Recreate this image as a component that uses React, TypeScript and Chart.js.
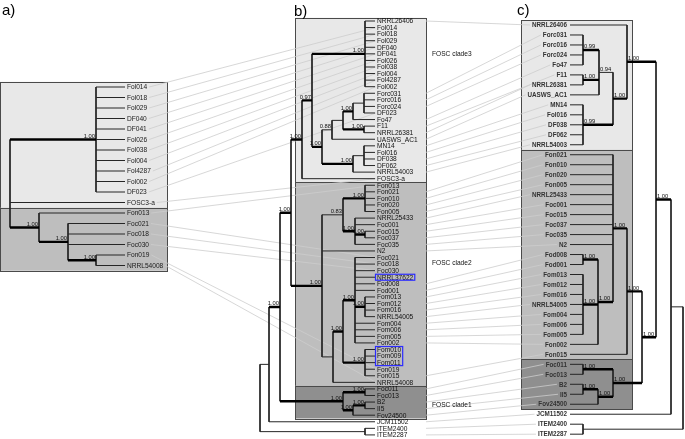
import React, { useEffect, useRef } from "react";
import { Chart, registerables } from "chart.js";
Chart.register(...registerables);

const W = 685;
const H = 439;

// ---------- Tree topologies (Newick-like: support@nodeColumn) ----------
// Panel a
const treeA =
  "((Fol014,Fol018,Fol029,DF040,DF041,Fol026,Fol038,Fol004,Fol4287,Fol002,DF023)1.00@96,FOSC3-a,(Fon013,(Foc021,Foc018,Foc030,(Fon019,NRRL54008)1.00@96)1.00@68)1.00@39)@10";

// Panel b
const bFol = "(NRRL26406,Fol014,Fol018,Fol029,DF040,DF041,Fol026,Fol038,Fol004,Fol4287,Fol002)1.00@365";
const bForc = "(Forc031,Forc016,Forc024,DF023)@364";
const bF11 = "(F11,NRRL26381)1.00@364";
const bMN = "(MN14,Fol016,DF038,DF062)@364";
const bClade3 = `((${bFol},((((${bForc},Fo47)1.00@353,${bF11})@343,UASWS_AC1)0.88@332,(${bMN},NRRL54003)1.00@353)1.00@322)0.97@312,FOSC3-a)1.00@302`;
const bFon = "(Fon013,Fon021,Fon010,Fon020,Fon005)1.00@365";
const bFoc = "(NRRL25433,Foc001,(Foc015,Foc037)1.00@365,Foc035)1.00@355";
const bFom = "(Foc021,Foc018,Foc030,NRRL37622,Fod008,Fod001,(Fom013,Fom012,Fom016,NRRL54005)1.00@365,Fom004,Fom006,Fom005,Fon002)1.00@355";
const bFom2 = "(Fom010,Fom009,Fom011,Fon019,Fon015)1.00@365";
const bClade2 = `((${bFon},${bFoc})0.83@343,N2,((${bFom},${bFom2})1.00@343,NRRL54008)@333)1.00@322`;
const bClade1 = "((Foc011,Foc013)1.00@365,((B2,II5)1.00@365,Fov24500)1.00@353)1.00@343";
const treeB = `((((${bClade3},${bClade2})1.00@291,${bClade1})1.00@280,JCM11502)@269,(ITEM2400,ITEM2287)@365)@260`;

// Panel c
const cForc = "(Forc031,Forc016,Forc024,Fo47)0.99@583";
const cF11 = "(F11,NRRL26381)1.00@583";
const cMN = "(MN14,Fol016,DF038,DF062,NRRL54003)0.99@583";
const cClade3 = `(NRRL26406,((${cForc},${cF11},UASWS_AC1)0.94@599,${cMN})1.00@613)1.00@627`;
const cFod = "(Fod008,Fod001)1.00@583";
const cFom = "(Fom013,Fom012,Fom016,NRRL54005,Fom004,Fom006,Fom005)1.00@583";
const cClade2 = `((Fon021,Fon010,Fon020,Fon005,NRRL25433,Foc001,Foc015,Foc037,Foc035,N2,(${cFod},${cFom},Fon002)1.00@598)1.00@613,Fon015)1.00@627`;
const cClade1 = "((Foc011,Foc013)1.00@583,((B2,II5)1.00@583,Fov24500)1.00@598)1.00@613";
const treeC = `(((${cClade3},(${cClade2},${cClade1})1.00@642)1.00@656,JCM11502)@671,(ITEM2400,ITEM2287)@583)@683`;

// Shaded clade boxes: [first leaf, last leaf, shade]
const boxesA: [string, string, string][] = [["Fol014", "FOSC3-a", "light"], ["Fon013", "NRRL54008", "mid"]];
const boxesB: [string, string, string][] = [["NRRL26406", "FOSC3-a", "light"], ["Fon013", "NRRL54008", "mid"], ["Foc011", "Fov24500", "dark"]];
const boxesC: [string, string, string][] = [["NRRL26406", "NRRL54003", "light"], ["Fon021", "Fon015", "mid"], ["Foc011", "Fov24500", "dark"]];
const cladeNames = ["FOSC clade3", "FOSC clade2", "FOSC clade1"];
const highlighted = [["NRRL37622", "NRRL37622"], ["Fom010", "Fom011"]];
const panelLetters = ["a)", "b)", "c)"];

// ---------- layout settings ----------
const PA = { y0: 87, dy: 10.5, tip: 125, labelX: 127, right: false, boxX0: 0, boxX1: 167 };
const PB = { y0: 21, dy: 6.57, tip: 375, labelX: 377, right: false, boxX0: 295, boxX1: 426 };
const PC = { y0: 25, dy: 9.98, tip: 570, labelX: 567, right: true, boxX0: 521, boxX1: 632 };
const SHADE: Record<string, string> = { light: "#e8e8e8", mid: "#bebebe", dark: "#8f8f8f" };
const LEAF_FONT = "6.6px 'Liberation Sans', Arial, sans-serif";
const LEAF_FONT_C = "bold 6.3px 'Liberation Sans', Arial, sans-serif";
const SUP_FONT = "5.8px 'Liberation Sans', Arial, sans-serif";

type Node = { name?: string; children: Node[]; sup?: string; x: number; y: number };

function parse(s: string): Node {
  let i = 0;
  function node(): Node {
    if (s[i] === "(") {
      i++;
      const children: Node[] = [];
      while (true) {
        children.push(node());
        if (s[i] === ",") { i++; continue; }
        if (s[i] === ")") { i++; break; }
        break;
      }
      let sup = "";
      while (i < s.length && /[0-9.]/.test(s[i])) sup += s[i++];
      let xs = "";
      if (s[i] === "@") { i++; while (i < s.length && /[0-9.]/.test(s[i])) xs += s[i++]; }
      return { children, sup, x: parseFloat(xs), y: 0 };
    }
    let name = "";
    while (i < s.length && !/[,()]/.test(s[i])) name += s[i++];
    return { name, children: [], x: 0, y: 0 };
  }
  return node();
}

function layout(src: string, P: any) {
  const root = parse(src);
  const leaves: Node[] = [];
  const thin: number[][][] = [];
  const thick: number[][][] = [];
  const sups: { x: number; y: number; t: string }[] = [];
  let idx = 0;
  const assign = (n: Node) => {
    if (!n.children.length) { n.y = P.y0 + idx * P.dy; n.x = P.tip; idx++; leaves.push(n); return; }
    n.children.forEach(assign);
    n.y = (n.children[0].y + n.children[n.children.length - 1].y) / 2;
  };
  assign(root);
  const walk = (n: Node, parent: Node | null) => {
    if (parent) {
      const isThick = !!n.sup && parseFloat(n.sup) >= 0.95;
      (isThick ? thick : thin).push([[parent.x, n.y], [n.x, n.y]]);
      if (n.sup) sups.push({ x: n.x, y: n.y, t: n.sup });
    }
    if (n.children.length) {
      thin.push([[n.x, n.children[0].y], [n.x, n.children[n.children.length - 1].y]]);
      n.children.forEach((c) => walk(c, n));
    }
  };
  walk(root, null);
  const yOf: Record<string, number> = {};
  leaves.forEach((l) => (yOf[l.name as string] = l.y));
  return { leaves, thin, thick, sups, yOf };
}

function toData(segs: number[][][]) {
  const out: any[] = [];
  segs.forEach((s) => {
    s.forEach((p) => out.push({ x: p[0], y: p[1] }));
    out.push({ x: null, y: null });
  });
  return out;
}

export default function App() {
  const ref = useRef<HTMLCanvasElement>(null);
  useEffect(() => {
    const canvas = ref.current!;
    const mctx = document.createElement("canvas").getContext("2d")!;
    const measure = (t: string, f: string) => { mctx.font = f; return mctx.measureText(t).width; };

    const A = layout(treeA, PA);
    const B = layout(treeB, PB);
    const C = layout(treeC, PC);

    const thin = [...A.thin, ...B.thin, ...C.thin];
    const thick = [...A.thick, ...B.thick, ...C.thick];
    const conn: number[][][] = [];
    A.leaves.forEach((l) => {
      const yb = B.yOf[l.name as string];
      if (yb === undefined) return;
      const x0 = PA.labelX + measure(l.name as string, LEAF_FONT) + 2;
      conn.push([[x0, l.y], [PB.labelX - 1, yb]]);
    });
    B.leaves.forEach((l) => {
      const yc = C.yOf[l.name as string];
      if (yc === undefined) return;
      const x1 = PC.labelX - measure(l.name as string, LEAF_FONT_C) - 2;
      conn.push([[PB.boxX1, l.y], [x1, yc]]);
    });

    const panels = [
      { T: A, P: PA, boxes: boxesA, font: LEAF_FONT, color: "#1a1a1a" },
      { T: B, P: PB, boxes: boxesB, font: LEAF_FONT, color: "#111" },
      { T: C, P: PC, boxes: boxesC, font: LEAF_FONT_C, color: "#333" },
    ];

    const drawPlugin = {
      id: "treeDecor",
      beforeDatasetsDraw(chart: any) {
        const ctx = chart.ctx;
        const sx = chart.scales.x, sy = chart.scales.y;
        ctx.save();
        panels.forEach(({ T, P, boxes }) => {
          boxes.forEach(([a, b, shade]) => {
            const x0 = sx.getPixelForValue(P.boxX0), x1 = sx.getPixelForValue(P.boxX1);
            const y0 = sy.getPixelForValue(T.yOf[a] - P.dy / 2), y1 = sy.getPixelForValue(T.yOf[b] + P.dy / 2);
            ctx.fillStyle = SHADE[shade];
            ctx.fillRect(x0, y0, x1 - x0, y1 - y0);
            ctx.strokeStyle = "#4a4a4a";
            ctx.lineWidth = 1;
            ctx.strokeRect(Math.round(x0) + 0.5, Math.round(y0) + 0.5, Math.round(x1 - x0), Math.round(y1 - y0));
          });
        });
        ctx.restore();
      },
      afterDatasetsDraw(chart: any) {
        const ctx = chart.ctx;
        const sx = chart.scales.x, sy = chart.scales.y;
        ctx.save();
        ctx.textBaseline = "middle";
        panels.forEach(({ T, P, font, color }) => {
          ctx.font = font;
          ctx.fillStyle = color;
          ctx.textAlign = P.right ? "right" : "left";
          T.leaves.forEach((l) => {
            ctx.fillText(l.name, sx.getPixelForValue(P.labelX), sy.getPixelForValue(l.y) + 0.5);
          });
          ctx.font = SUP_FONT;
          ctx.fillStyle = "#111";
          ctx.textBaseline = "alphabetic";
          ctx.textAlign = P.right ? "left" : "right";
          T.sups.forEach((s) => {
            const x = P.right ? s.x + 1 : s.x - 1;
            ctx.fillText(s.t, sx.getPixelForValue(x), sy.getPixelForValue(s.y - 1.6));
          });
          ctx.textBaseline = "middle";
        });
        // clade names in panel b
        ctx.font = "6.6px 'Liberation Sans', Arial, sans-serif";
        ctx.textAlign = "left";
        ctx.fillStyle = "#111";
        boxesB.forEach(([a], i) => {
          const tops = B.yOf[a] - PB.dy / 2;
          const bottom = B.yOf[boxesB[i][1]] + PB.dy / 2;
          const yy = i === 0 ? tops + (bottom - tops) * 0.22 : i === 1 ? tops + (bottom - tops) * 0.4 : tops + (bottom - tops) * 0.6;
          ctx.fillText(cladeNames[i], sx.getPixelForValue(PB.boxX1 + 6), sy.getPixelForValue(yy));
        });
        // highlight boxes
        ctx.strokeStyle = "#2b2bff";
        ctx.lineWidth = 1.2;
        highlighted.forEach(([a, b]) => {
          const names = B.leaves.map((l) => l.name as string);
          const i0 = names.indexOf(a), i1 = names.indexOf(b);
          let w = 0;
          for (let k = i0; k <= i1; k++) w = Math.max(w, measure(names[k], LEAF_FONT));
          const x0 = sx.getPixelForValue(PB.labelX - 1.5);
          const y0 = sy.getPixelForValue(B.yOf[a] - PB.dy / 2 + 0.3);
          const y1 = sy.getPixelForValue(B.yOf[b] + PB.dy / 2 - 0.3);
          ctx.strokeRect(x0, y0, w + 3, y1 - y0);
        });
        // panel letters
        ctx.font = "15px 'Liberation Sans', Arial, sans-serif";
        ctx.textAlign = "left";
        ctx.textBaseline = "alphabetic";
        ctx.fillStyle = "#000";
        const letterX = [2, 294, 517];
        const letterY = [15, 16, 15];
        panelLetters.forEach((t, i) => ctx.fillText(t, sx.getPixelForValue(letterX[i]), sy.getPixelForValue(letterY[i])));
        ctx.restore();
      },
    };

    const chart = new Chart(canvas, {
      type: "scatter",
      data: {
        datasets: [
          { data: toData(thick), showLine: true, borderColor: "#000", borderWidth: 2.4, pointRadius: 0, spanGaps: false, borderCapStyle: "butt" } as any,
          { data: toData(thin), showLine: true, borderColor: "#262626", borderWidth: 1, pointRadius: 0, spanGaps: false } as any,
          { data: toData(conn), showLine: true, borderColor: "#cdcdcd", borderWidth: 0.8, pointRadius: 0, spanGaps: false } as any,
        ],
      },
      options: {
        responsive: false,
        animation: false,
        devicePixelRatio: 1,
        events: [],
        layout: { padding: 0 },
        plugins: { legend: { display: false }, tooltip: { enabled: false } },
        scales: {
          x: { type: "linear", min: 0, max: W, display: false },
          y: { type: "linear", min: 0, max: H, reverse: true, display: false },
        },
      },
      plugins: [drawPlugin],
    });
    return () => chart.destroy();
  }, []);
  return (
    <div style={{ position: "fixed", left: 0, top: 0, width: W, height: H, background: "#fff" }}>
      <canvas ref={ref} width={W} height={H} style={{ display: "block", width: W, height: H }} />
    </div>
  );
}
